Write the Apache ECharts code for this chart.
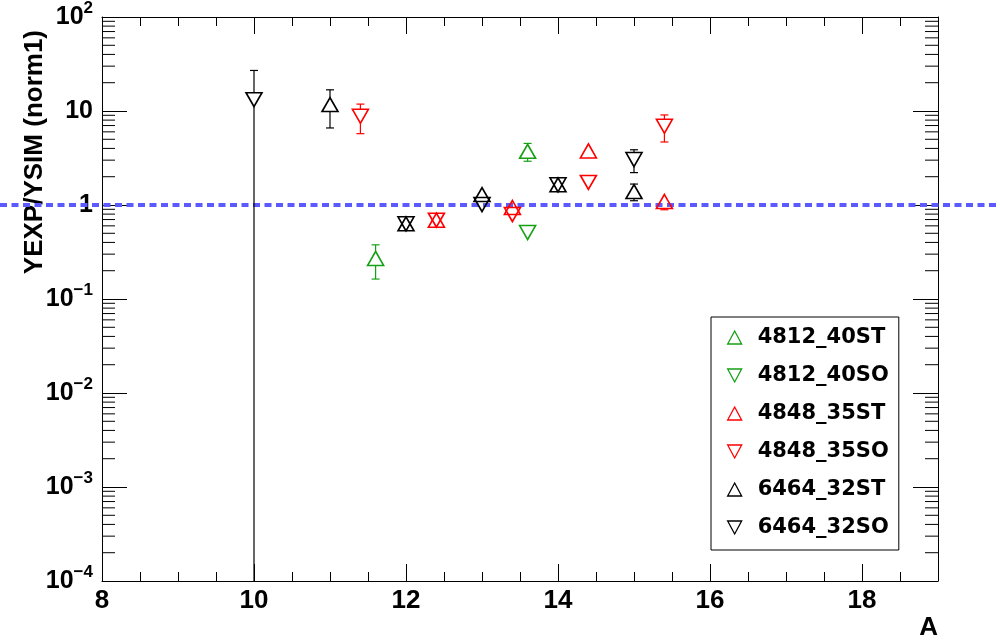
<!DOCTYPE html>
<html>
<head>
<meta charset="utf-8">
<script src="https://cdn.jsdelivr.net/npm/echarts@6/dist/echarts.min.js"></script>
<style>
  html, body { margin: 0; padding: 0; background: #ffffff; }
  #chart { width: 1000px; height: 641px; }
</style>
</head>
<body>
<div id="chart"></div>
<script>
// ---- data: mass number A, yield ratio YEXP/YSIM and its error ----
const seriesNames  = ['4812_40ST', '4812_40SO', '4848_35ST', '4848_35SO', '6464_32ST', '6464_32SO'];
const seriesColors = ['#15a015', '#15a015', '#ff0000', '#ff0000', '#000000', '#000000'];
const seriesUp     = [true, false, true, false, true, false];

const a_4812_40ST = [11.6, 13.6];
const r_4812_40ST = [0.27, 3.72];
const e_4812_40ST = [0.107, 0.80];

const a_4812_40SO = [13.6];
const r_4812_40SO = [0.51];
const e_4812_40SO = [0.05];

const a_4848_35ST = [12.4, 13.4, 14.4, 15.4];
const r_4848_35ST = [0.69, 0.94, 3.76, 1.09];
const e_4848_35ST = [0.05, 0.06, 0.30, 0.20];

const a_4848_35SO = [11.4, 12.4, 13.4, 14.4, 15.4];
const r_4848_35SO = [8.79, 0.69, 0.79, 1.74, 6.88];
const e_4848_35SO = [3.05, 0.05, 0.05, 0.15, 2.2];

const a_6464_32ST = [11, 12, 13, 14, 15];
const r_6464_32ST = [11.7, 0.63, 1.29, 1.64, 1.39];
const e_6464_32ST = [5.1, 0.05, 0.10, 0.10, 0.28];

const a_6464_32SO = [10, 12, 13, 14, 15];
const r_6464_32SO = [13.2, 0.63, 1.01, 1.64, 3.04];
const e_6464_32SO = [13.8, 0.05, 0.08, 0.10, 0.83];

const xs   = [a_4812_40ST, a_4812_40SO, a_4848_35ST, a_4848_35SO, a_6464_32ST, a_6464_32SO];
const rs   = [r_4812_40ST, r_4812_40SO, r_4848_35ST, r_4848_35SO, r_6464_32ST, r_6464_32SO];
const errs = [e_4812_40ST, e_4812_40SO, e_4848_35ST, e_4848_35SO, e_6464_32ST, e_6464_32SO];

// axis ranges and ticks
const xMin = 8, xMax = 19, xStep = 2;
const yMin = 1e-4, yMax = 100;
const yDecades = [-4, -3, -2, -1, 0, 1];
const yMinorMultipliers = [2, 3, 4, 5, 6, 7, 8, 9];
const refRatio = 1;          // unit-ratio reference line

// ---- drawing ----
const FONT = 'Liberation Sans, Arial, sans-serif';
const MARK_W = 16, MARK_H = 14, HALF_H = 7, CAP = 4;
const UP_PATH = 'path://M7,0L14,13L0,13Z';
const DOWN_PATH = 'path://M0,0L14,0L7,13Z';

function toRows(x, y, e) { return x.map((v, i) => [v, y[i], e[i]]); }

function makeErrorBars(color) {
  return function (params, api) {
    const x = api.value(0), y = api.value(1), err = api.value(2);
    const c = api.coord([x, y]);
    const cs = params.coordSys;
    const hi = api.coord([x, y + err])[1];
    const loInRange = (y - err) > yMin;
    const lo = loInRange ? api.coord([x, y - err])[1] : cs.y + cs.height;
    const style = { stroke: color, lineWidth: 1.2 };
    const kids = [];
    if (c[1] - hi > HALF_H) {
      kids.push({ type: 'line', shape: { x1: c[0], y1: c[1] - HALF_H, x2: c[0], y2: hi }, style });
      kids.push({ type: 'line', shape: { x1: c[0] - CAP, y1: hi, x2: c[0] + CAP, y2: hi }, style });
    }
    if (lo - c[1] > HALF_H) {
      kids.push({ type: 'line', shape: { x1: c[0], y1: c[1] + HALF_H, x2: c[0], y2: lo }, style });
      if (loInRange) {
        kids.push({ type: 'line', shape: { x1: c[0] - CAP, y1: lo, x2: c[0] + CAP, y2: lo }, style });
      }
    }
    return { type: 'group', children: kids };
  };
}

function yLabel(v) {
  const e = Math.round(Math.log10(v));
  if (e === 0) return '1';
  if (e === 1) return '10';
  return '{b|10}{s|' + (e < 0 ? '\u2212' + (-e) : String(e)) + '}';
}

const minorRows = [];
yDecades.forEach(d => yMinorMultipliers.forEach(m => minorRows.push([xMin, m * Math.pow(10, d)])));

const series = [];

// log-spaced minor ticks on both vertical frame sides
series.push({
  type: 'custom', name: 'yMinorTicks', silent: true, z: 1,
  data: minorRows,
  renderItem: function (params, api) {
    const p = api.coord([api.value(0), api.value(1)]);
    const cs = params.coordSys;
    const st = { stroke: '#000', lineWidth: 1 };
    return {
      type: 'group', children: [
        { type: 'line', shape: { x1: cs.x, y1: p[1], x2: cs.x + 13, y2: p[1] }, style: st },
        { type: 'line', shape: { x1: cs.x + cs.width, y1: p[1], x2: cs.x + cs.width - 13, y2: p[1] }, style: st }
      ]
    };
  }
});

// dashed unit-ratio line across the whole canvas
series.push({
  type: 'custom', name: 'unitLine', silent: true, z: 2,
  data: [[xMin, refRatio]],
  renderItem: function (params, api) {
    const p = api.coord([api.value(0), api.value(1)]);
    return {
      type: 'line',
      shape: { x1: 0, y1: p[1], x2: api.getWidth(), y2: p[1] },
      style: { stroke: '#5a5aff', lineWidth: 4, lineDash: [7, 4.5] }
    };
  }
});

seriesNames.forEach((name, i) => {
  const rows = toRows(xs[i], rs[i], errs[i]);
  series.push({
    type: 'custom', name: name + ' err', silent: true, z: 3,
    data: rows,
    encode: { x: 0, y: 1 },
    renderItem: makeErrorBars(seriesColors[i])
  });
  series.push({
    type: 'scatter', name: name, z: 4,
    data: rows.map(r => [r[0], r[1]]),
    symbol: 'triangle',
    symbolRotate: seriesUp[i] ? 0 : 180,
    symbolSize: [MARK_W, MARK_H],
    itemStyle: { color: 'transparent', borderColor: seriesColors[i], borderWidth: 1.6, opacity: 1 },
    emphasis: { disabled: true }
  });
});

const chart = echarts.init(document.getElementById('chart'), null, { renderer: 'canvas' });
chart.setOption({
  animation: false,
  backgroundColor: '#ffffff',
  grid: { left: 102, right: 62, top: 17, bottom: 58, containLabel: false },
  legend: {
    orient: 'vertical', left: 711, top: 317,
    padding: [10, 10, 12, 16],
    itemGap: 17, itemWidth: 36, itemHeight: 13,
    borderColor: '#000', borderWidth: 1, backgroundColor: '#fff',
    selectedMode: false,
    textStyle: { fontFamily: 'DejaVu Sans', fontWeight: 'bold', fontSize: 21, color: '#000' },
    data: seriesNames.map((n, i) => ({
      name: n,
      icon: seriesUp[i] ? UP_PATH : DOWN_PATH,
      itemStyle: { color: 'transparent', borderColor: seriesColors[i], borderWidth: 1.3 }
    }))
  },
  xAxis: [
    {
      type: 'value', min: xMin, max: xMax, interval: xStep, position: 'bottom',
      name: 'A', nameLocation: 'end', nameGap: 0,
      nameTextStyle: { fontFamily: FONT, fontWeight: 'bold', fontSize: 26, color: '#000', align: 'right', verticalAlign: 'top', padding: [34, 0, 0, 0] },
      axisLine: { show: true, lineStyle: { color: '#000', width: 1 } },
      axisTick: { show: true, inside: true, length: 17, lineStyle: { color: '#000' } },
      minorTick: { show: true, splitNumber: 4, length: 9, lineStyle: { color: '#000' } },
      axisLabel: { fontFamily: FONT, fontWeight: 'bold', fontSize: 26, color: '#000', margin: 7, showMaxLabel: false },
      splitLine: { show: false }
    },
    {
      type: 'value', min: xMin, max: xMax, interval: xStep, position: 'top',
      axisLine: { show: true, lineStyle: { color: '#000', width: 1 } },
      axisTick: { show: true, inside: true, length: 17, lineStyle: { color: '#000' } },
      minorTick: { show: true, splitNumber: 4, length: 9, lineStyle: { color: '#000' } },
      axisLabel: { show: false },
      splitLine: { show: false }
    }
  ],
  yAxis: [
    {
      type: 'log', logBase: 10, min: yMin, max: yMax, splitNumber: 6, position: 'left',
      name: 'YEXP/YSIM (norm1)', nameLocation: 'end', nameGap: -13, nameRotate: 90,
      nameTextStyle: { fontFamily: FONT, fontWeight: 'bold', fontSize: 26, color: '#000', align: 'right', verticalAlign: 'bottom', padding: [0, 0, 54, 0] },
      axisLine: { show: true, lineStyle: { color: '#000', width: 1 } },
      axisTick: { show: true, inside: true, length: 25, lineStyle: { color: '#000' } },
      minorTick: { show: false },
      axisLabel: {
        fontFamily: FONT, fontWeight: 'bold', fontSize: 25, color: '#000', margin: 9,
        formatter: yLabel,
        rich: {
          b: { fontFamily: FONT, fontWeight: 'bold', fontSize: 25, color: '#000', verticalAlign: 'middle' },
          s: { fontFamily: FONT, fontWeight: 'bold', fontSize: 17, color: '#000', verticalAlign: 'middle', padding: [0, 0, 17, 0] }
        }
      },
      splitLine: { show: false }
    },
    {
      type: 'log', logBase: 10, min: yMin, max: yMax, splitNumber: 6, position: 'right',
      axisLine: { show: true, lineStyle: { color: '#000', width: 1 } },
      axisTick: { show: true, inside: true, length: 25, lineStyle: { color: '#000' } },
      minorTick: { show: false },
      axisLabel: { show: false },
      splitLine: { show: false }
    }
  ],
  series: series
});
</script>
</body>
</html>
